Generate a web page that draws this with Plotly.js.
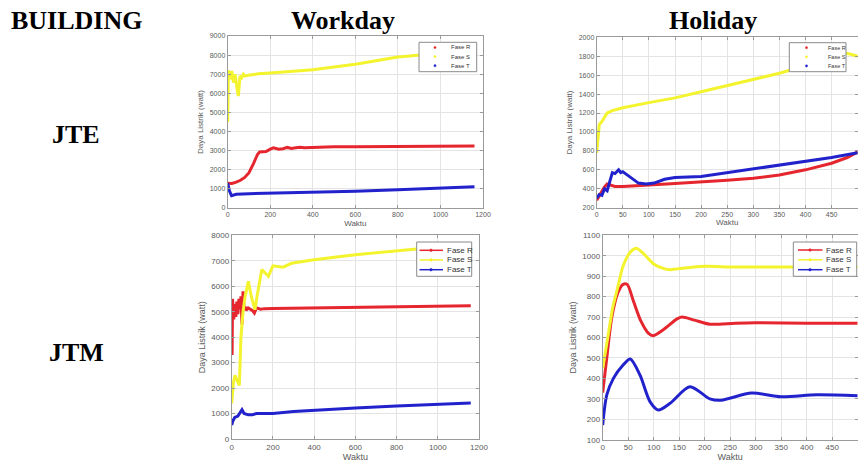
<!DOCTYPE html>
<html><head><meta charset="utf-8">
<script src="https://cdn.plot.ly/plotly-3.0.1.min.js"></script>
<style>html,body{margin:0;padding:0;background:#fff}#chart{width:858px;height:462px}</style>
</head><body><div id="chart"></div>
<script>
// ---- JTE Workday ----
const jteWorkR_x = [0,20,40,60,80,100,120,140,150,180,200,215,240,260,280,300,320,340,360,400,450,500,600,800,1000,1160];
const jteWorkR_y = [1300,1280,1350,1450,1600,1850,2300,2800,2930,2950,3080,3150,3080,3100,3170,3120,3150,3180,3150,3170,3160,3200,3210,3220,3230,3240];
const jteWorkS_x = [0,3,11,19,27,35,42,50,58,66,74,82,97,113,144,200,400,600,800,1000,1160];
const jteWorkS_y = [4500,7200,6740,7170,6560,7000,6390,5860,6910,6820,7000,6900,6950,6980,7020,7060,7230,7520,7900,8100,8250];
const jteWorkT_x = [0,8,18,40,100,200,400,600,800,1000,1160];
const jteWorkT_y = [1300,900,650,720,750,770,820,870,950,1030,1110];
// ---- JTE Holiday ----
const jteHoliR_x = [0,5,10,15,20,25,35,50,75,100,150,200,250,300,350,400,450,480,500];
const jteHoliR_y = [280,330,380,420,450,440,425,425,435,440,455,470,490,510,545,600,670,730,790];
const jteHoliS_x = [0,3,5,10,15,20,30,50,100,150,200,250,300,350,400,450,480,500];
const jteHoliS_y = [780,1000,1080,1110,1150,1200,1225,1255,1310,1360,1425,1490,1550,1620,1700,1770,1830,1800];
const jteHoliT_x = [0,5,10,15,20,24,27,30,35,40,42,46,50,55,62,70,80,95,110,130,150,200,250,300,350,400,450,500];
const jteHoliT_y = [300,340,330,400,380,450,500,570,560,590,600,570,580,560,530,500,460,450,460,500,520,530,570,610,650,690,730,780];
// ---- JTM Workday ----
const jtmWorkR_x = [0,2,4,6,10,15,20,25,30,35,40,45,50,55,60,65,70,80,90,100,110,120,140,160,200,400,600,800,1000,1160];
const jtmWorkR_y = [5000,3300,5500,5300,4700,5300,4800,5400,4900,5500,5100,5600,4500,5800,5100,5200,5050,5150,5100,5050,4950,5150,5100,5120,5130,5150,5170,5190,5210,5230];
const jtmWorkS_x = [0,8,16,25,37,45,55,65,81,95,113,125,146,165,178,200,250,290,400,600,800,950,1160];
const jtmWorkS_y = [1400,2200,2500,2300,2100,4000,5000,5600,6190,5600,5080,5700,6650,6500,6390,6800,6750,6900,7040,7240,7400,7500,7600];
const jtmWorkT_x = [0,5,15,30,50,60,80,100,120,160,200,300,400,600,800,1000,1160];
const jtmWorkT_y = [550,700,850,900,1150,1000,950,950,1000,1000,1000,1080,1130,1220,1300,1360,1410];
// ---- JTM Holiday ----
const jtmHoliR_x = [0,8,18,30,40,48,60,75,90,99,120,145,155,180,210,260,300,400,500];
const jtmHoliR_y = [330,500,700,820,860,860,780,680,620,609,640,690,700,685,665,670,672,670,670];
const jtmHoliS_x = [0,10,20,30,40,55,67,80,100,120,132,150,200,250,300,400,500];
const jtmHoliS_y = [450,600,750,850,950,1020,1036,1010,960,937,932,937,948,945,945,945,945];
const jtmHoliT_x = [0,8,21,40,54,73,93,109,132,171,210,232,292,350,420,500];
const jtmHoliT_y = [172,319,400,465,495,417,285,245,278,359,300,293,328,310,320,315];

const seriesNames = ['Fase R','Fase S','Fase T'];
const colors = ['#e5262e','#f3f32e','#2222cc'];
const FONT = 'Liberation Sans, Arial, sans-serif';
const W=858, H=462;
const fx = v => v/W, fy = v => 1-v/H;

const panels = [
  {xa:'x', ya:'y', smooth:false, data:[[jteWorkR_x,jteWorkR_y],[jteWorkS_x,jteWorkS_y],[jteWorkT_x,jteWorkT_y]],
   leg:{box:[419,42.3,476.7,71.7], rows:[47.5,56.6,65.7], sym:435, line:null, text:449, fs:6}},
  {xa:'x2', ya:'y2', smooth:false, data:[[jteHoliR_x,jteHoliR_y],[jteHoliS_x,jteHoliS_y],[jteHoliT_x,jteHoliT_y]],
   leg:{box:[789.3,42.7,846,71.7], rows:[47.7,56.8,65.9], sym:806.5, line:null, text:826, fs:5.5}},
  {xa:'x3', ya:'y3', smooth:false, data:[[jtmWorkR_x,jtmWorkR_y],[jtmWorkS_x,jtmWorkS_y],[jtmWorkT_x,jtmWorkT_y]],
   leg:{box:[416.7,242,471.7,276.3], rows:[250.3,259.9,269.7], sym:431, line:[419.5,443], text:445, fs:8}},
  {xa:'x4', ya:'y4', smooth:true, data:[[jtmHoliR_x,jtmHoliR_y],[jtmHoliS_x,jtmHoliS_y],[jtmHoliT_x,jtmHoliT_y]],
   leg:{box:[793.3,242,856.7,276.3], rows:[250,259.8,269.7], sym:810, line:[798,822.5], text:824, fs:8}}
];

const traces = [];
const shapes = [];
const annotations = [];
panels.forEach(p => {
  p.data.forEach((d,i) => {
    traces.push({x:d[0], y:d[1], xaxis:p.xa, yaxis:p.ya, mode:'lines', showlegend:false, name:seriesNames[i],
      line:{color:colors[i], width:3, shape:p.smooth?'spline':'linear', smoothing:0.8}, hoverinfo:'skip'});
  });
  const L = p.leg;
  shapes.push({type:'rect', xref:'paper', yref:'paper', x0:fx(L.box[0]), x1:fx(L.box[2]), y0:fy(L.box[3]), y1:fy(L.box[1]),
    fillcolor:'#ffffff', line:{color:'#8a8a8a', width:1}, layer:'above'});
  seriesNames.forEach((n,i) => {
    const r = L.rows[i];
    if (L.line) {
      shapes.push({type:'line', xref:'paper', yref:'paper', x0:fx(L.line[0]), x1:fx(L.line[1]), y0:fy(r), y1:fy(r),
        line:{color:colors[i], width:1.5}, layer:'above'});
    }
    const rr = L.line ? 1.3 : 1.1;
    shapes.push({type:'circle', xref:'paper', yref:'paper', x0:fx(L.sym-rr), x1:fx(L.sym+rr), y0:fy(r+rr), y1:fy(r-rr),
      fillcolor:colors[i], line:{color:colors[i], width:0.5}, layer:'above'});
    annotations.push({text:n, xref:'paper', yref:'paper', x:fx(L.text), y:fy(r), xanchor:'left', yanchor:'middle',
      showarrow:false, font:{family:FONT, size:L.fs, color:'#333'}});
  });
});

function axis(domain, range, dtick, anchor, fs, title, standoff){
  return {domain:domain, range:range, dtick:dtick, anchor:anchor, tick0:range[0],
    showgrid:true, gridcolor:'#e4e4e4', gridwidth:1, zeroline:false,
    showline:true, linecolor:'#9a9a9a', linewidth:1, mirror:'ticks',
    ticks:'inside', ticklen:3, tickcolor:'#9a9a9a',
    tickfont:{family:FONT, size:fs, color:'#5a5a5a'},
    title:{text:title, font:{family:FONT, size:fs+1, color:'#5a5a5a'}, standoff:standoff},
    automargin:false, fixedrange:true};
}

const px = (a,b)=>[a/W,b/W];
const py = (top,bot)=>[1-bot/H,1-top/H];

const serif = {family:'Liberation Serif, Times New Roman, serif', size:26, color:'#000'};
const ann = (t,x,y)=>({text:'<b>'+t+'</b>', x:x/W, y:1-y/H, xref:'paper', yref:'paper', showarrow:false, font:serif, xanchor:'center', yanchor:'middle'});
[['BUILDING',76,21],['Workday',343,21],['Holiday',713,21],['JTE',76,135],['JTM',76,352]].forEach(a=>annotations.push(ann(a[0],a[1],a[2])));

const layout = {
  width:W, height:H, margin:{l:0,r:0,t:0,b:0}, paper_bgcolor:'#fff', plot_bgcolor:'#fff',
  xaxis: axis(px(227.7,483), [0,1200], 200, 'y', 7, 'Waktu', 2),
  yaxis: axis(py(36,208), [0,9000], 1000, 'x', 7, 'Daya Listrik (watt)', 4),
  xaxis2: axis(px(596.7,857.7), [0,500], 50, 'y2', 7, 'Waktu', 2),
  yaxis2: axis(py(37.3,207.7), [200,2000], 200, 'x2', 7, 'Daya Listrik (watt)', 4),
  xaxis3: axis(px(231.7,479), [0,1200], 200, 'y3', 8, 'Waktu', 2),
  yaxis3: axis(py(235.3,439), [0,8000], 1000, 'x3', 8, 'Daya Listrik (watt)', 4),
  xaxis4: axis(px(602.7,857.7), [0,500], 50, 'y4', 8, 'Waktu', 2),
  yaxis4: axis(py(235.3,439.7), [100,1100], 100, 'x4', 8, 'Daya Listrik (watt)', 4),
  shapes: shapes,
  annotations: annotations,
  showlegend:false
};

Plotly.newPlot('chart', traces, layout, {staticPlot:true, displayModeBar:false});
</script></body></html>
